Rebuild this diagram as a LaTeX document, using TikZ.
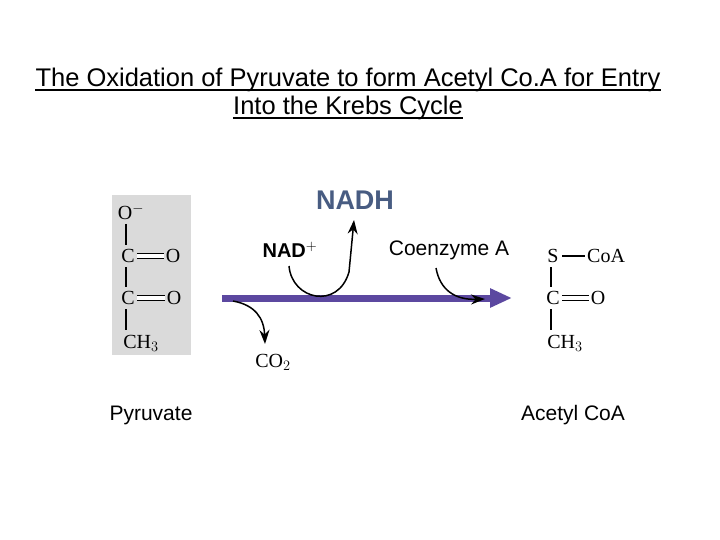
\documentclass[tikz,border=0pt]{standalone}
\usepackage{fontspec}
\setmainfont{Liberation Serif}
\newfontfamily\arialf{Liberation Sans}
\usetikzlibrary{arrows.meta}
\definecolor{arrowpurple}{RGB}{92,72,160}
\definecolor{nadhblue}{RGB}{72,92,130}
\definecolor{boxgrey}{RGB}{218,218,218}
\tikzset{
  chem/.style={font=\fontsize{20}{22}\selectfont, inner sep=0pt, anchor=center},
  lab/.style={font=\arialf\fontsize{21}{23}\selectfont, inner sep=0pt},
  bond/.style={line width=1.3pt},
  curv/.style={line width=1.5pt, -{Stealth[length=14pt,width=10pt]}},
  ttl/.style={font=\arialf\fontsize{25.5}{28}\selectfont, inner sep=0pt, anchor=base},
}
\begin{document}
\begin{tikzpicture}[x=1pt,y=-1pt]
\useasboundingbox (0,0) rectangle (720,540);
\fill[white] (0,0) rectangle (720,540);
\node[ttl] (t1) at (348,87) {The Oxidation of Pyruvate to form Acetyl Co.A for Entry};
\node[ttl] (t2) at (348,115) {Into the Krebs Cycle};
\draw[line width=1.2pt] ([yshift=-3pt]t1.base west) -- ([yshift=-3pt]t1.base east);
\draw[line width=1.2pt] ([yshift=-3pt]t2.base west) -- ([yshift=-3pt]t2.base east);
% pyruvate
\fill[boxgrey] (112,195) rectangle (191,355);
\node[chem] (o1) at (131,212) {O$^{-}$};
\node[chem] (c1) at (128,256) {C};
\node[chem] (o2) at (173,256) {O};
\node[chem] (c2) at (128,298) {C};
\node[chem] (o3) at (174,298) {O};
\node[chem] (ch1) at (141,343) {CH$_3$};
\draw[bond] (126,224) -- (126,245);
\draw[bond] (126,267) -- (126,287);
\draw[bond] (126,309) -- (126,330);
\draw[bond, double, double distance=3.5pt] ([xshift=2pt]c1.east) -- ([xshift=-2pt]o2.west);
\draw[bond, double, double distance=3.5pt] ([xshift=2pt]c2.east) -- ([xshift=-2pt]o3.west);
\node[lab] (pyr) at (151,415) {Pyruvate};
% main arrow
\coordinate (as) at (222,298);
\coordinate (ae) at (512,298);
\draw[arrowpurple, line width=7pt, -{Triangle[length=22pt,width=18pt]}] (as) -- (ae);
% CO2
\node[chem] (co2) at (273,362) {CO$_2$};
\coordinate (co2s) at (233,301);
\draw[curv] (co2s) .. controls (255,305) and (264,318) .. (265,344);
% NAD
\node[lab, font=\arialf\bfseries\fontsize{20}{22}\selectfont] (nad) at (290,250) {NAD$^{+}$};
\node[lab, font=\arialf\bfseries\fontsize{27}{29}\selectfont, text=nadhblue] (nadh) at (355,200) {NADH};
\draw[curv] (289,266) .. controls (292,300) and (338,310) .. (349,272) -- (354,220);
% CoA
\node[lab] (coa) at (449,250) {Coenzyme A};
\draw[curv] (436,268) .. controls (440,290) and (455,300) .. (485,299);
% acetyl CoA
\node[chem] (s) at (553,256) {S};
\node[chem, anchor=west] (coa2) at (587,256) {CoA};
\draw[bond] (562,256) -- (585,256);
\node[chem] (c3) at (553,298) {C};
\node[chem] (o4) at (598,298) {O};
\draw[bond, double, double distance=3.5pt] (562,298) -- (589,298);
\node[chem] (ch2) at (565,343) {CH$_3$};
\draw[bond] (551,267) -- (551,287);
\draw[bond] (551,309) -- (551,330);
\node[lab] (acoa) at (573,415) {Acetyl CoA};
\end{tikzpicture}
\end{document}
